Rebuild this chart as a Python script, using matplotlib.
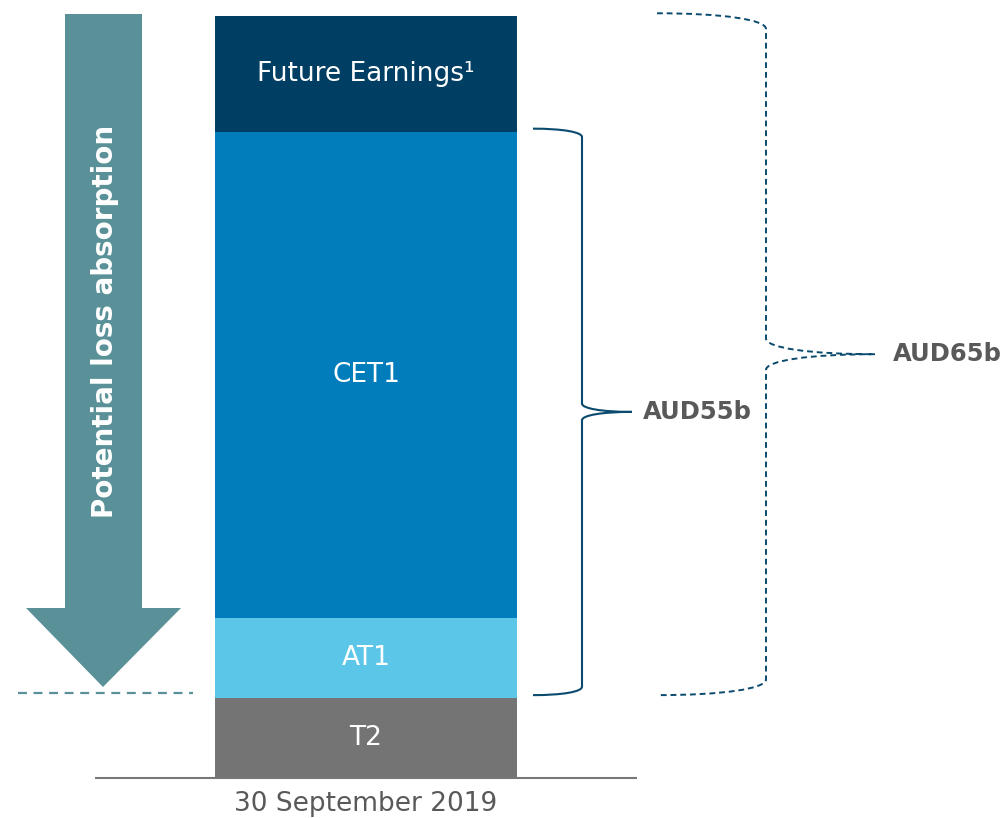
import matplotlib.pyplot as plt
from matplotlib.path import Path
from matplotlib.patches import PathPatch, Polygon

# capital stack, AUD b (bottom to top)
layers = ['T2', 'AT1', 'CET1', 'Future Earnings¹']
values = [7.6, 7.7, 46.3, 11.0]
colors = ['#747474', '#5BC6E8', '#007DBA', '#003F63']
period = '30 September 2019'
brace_labels = ['AUD55b', 'AUD65b']

W, H = 1003, 818
PX_PER_B = 10.49
BASE_PX = 778

fig = plt.figure(figsize=(W / 100, H / 100), dpi=100)
ax = fig.add_axes([0, 0, 1, 1])
ax.set_xlim(0, W)
ax.set_ylim(-(H - BASE_PX) / PX_PER_B, BASE_PX / PX_PER_B)
ax.axis('off')


def px(x, y):
    # pixel position (from top-left) -> axes fraction
    return (x / W, 1 - y / H)


# stacked bar
bar_x = 366
bottom = 0
for name, v, c in zip(layers, values, colors):
    ax.bar(bar_x, v, width=302, bottom=bottom, color=c, linewidth=0)
    ax.text(bar_x, bottom + v / 2, name, color='white', fontsize=19,
            ha='center', va='center')
    bottom += v

ax.plot([95, 637], [0, 0], color='#777777', lw=1.5, solid_capstyle='butt')
ax.text(bar_x, -2.5, period, color='#595959', fontsize=19, ha='center', va='center')

# loss absorption arrow
arrow = Polygon([px(65, 14), px(142, 14), px(142, 608), px(181, 608),
                 px(103, 687), px(26, 608), px(65, 608)],
                closed=True, transform=ax.transAxes, color='#5A9199', lw=0)
ax.add_patch(arrow)
ax.text(*px(105, 321), 'Potential loss absorption', transform=ax.transAxes,
        rotation=90, color='white', fontsize=20, fontweight='bold',
        ha='center', va='center')
ax.plot([px(18, 0)[0], px(193, 0)[0]], [px(0, 693)[1]] * 2, transform=ax.transAxes,
        color='#5A9199', lw=1.6, dashes=(4, 3))


def brace(x0, xv, xt, ytop, ybot, c, **kw):
    ym = (ytop + ybot) / 2
    dx = xv - x0
    dt = xt - xv
    verts = [(x0, ytop), (x0 + dx * 0.6, ytop), (xv, ytop - c * 0.4), (xv, ytop - c),
             (xv, ym + c),
             (xv, ym + c * 0.4), (xv + dt * 0.4, ym), (xt, ym),
             (xv + dt * 0.4, ym), (xv, ym - c * 0.4), (xv, ym - c),
             (xv, ybot + c),
             (xv, ybot + c * 0.4), (x0 + dx * 0.6, ybot), (x0, ybot)]
    codes = [Path.MOVETO, Path.CURVE4, Path.CURVE4, Path.CURVE4,
             Path.LINETO,
             Path.CURVE4, Path.CURVE4, Path.CURVE4,
             Path.CURVE4, Path.CURVE4, Path.CURVE4,
             Path.LINETO,
             Path.CURVE4, Path.CURVE4, Path.CURVE4]
    ax.add_patch(PathPatch(Path(verts, codes), fill=False, **kw))
    return ym


t2, at1, cet1, fe = values
ym = brace(533, 582, 632, t2 + at1 + cet1 + 0.3, t2 + 0.3, 0.8,
           edgecolor='#0A4A6E', lw=1.5)
ax.text(643, ym, brace_labels[0], color='#595959', fontsize=17.5,
        fontweight='bold', ha='left', va='center')

ym = brace(657, 766, 875, t2 + at1 + cet1 + fe + 0.3, t2 + 0.3, 1.5,
           edgecolor='#0A4A6E', lw=1.4, linestyle=(0, (3, 2)))
ax.text(893, ym, brace_labels[1], color='#595959', fontsize=17.5,
        fontweight='bold', ha='left', va='center')

fig.savefig('out.png', dpi=100)
